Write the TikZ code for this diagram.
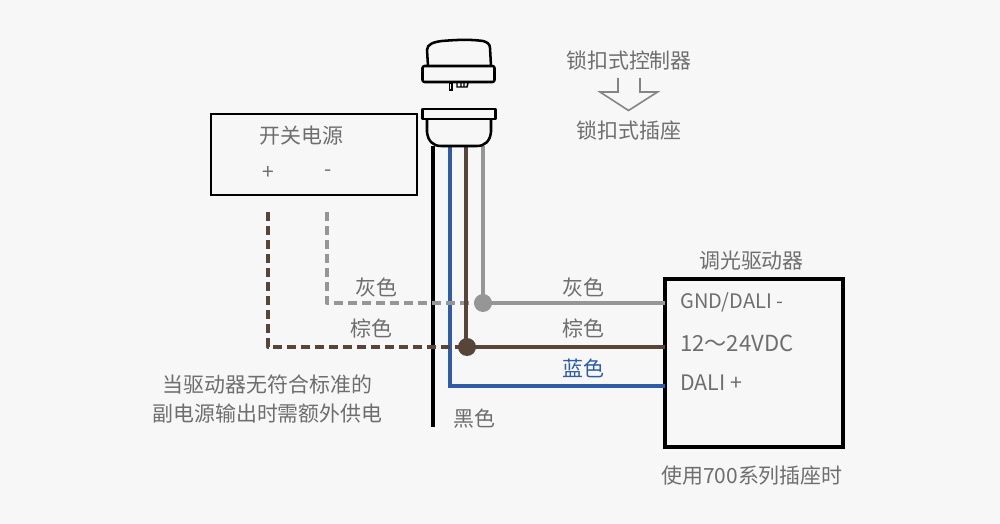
\documentclass[tikz,border=0pt]{standalone}
\usepackage{fontspec}
\setmainfont{Noto Sans CJK SC}[Scale=1]
\begin{document}
\begin{tikzpicture}[x=0.75pt,y=-0.75pt,
  lbl/.style={inner sep=0pt,text=txtgray,font=\fontsize{15.7pt}{19pt}\selectfont},
  wire/.style={line width=2.9pt,line join=miter},
  dashwire/.style={line width=2.9pt,dash pattern=on 6.9pt off 3.6pt,line join=round},
  dev/.style={draw=black,line width=1.9pt,line join=round},
  box/.style={draw=black,line width=1.9pt,inner sep=0pt,outer sep=0pt,anchor=north west}]
\definecolor{bg}{HTML}{F7F7F7}
\definecolor{txtgray}{HTML}{6E6E6E}
\definecolor{wgray}{HTML}{969696}
\definecolor{wbrown}{HTML}{57453A}
\definecolor{wblue}{HTML}{2F5CA8}
\path[use as bounding box,fill=bg] (0,0) rectangle (1000,524);

% boxes
\node[box,minimum width=154.5pt,minimum height=60.75pt] (psu) at (211,114) {};
\node[box,line width=2.5pt,minimum width=133.5pt,minimum height=126pt] (drv) at (665,279) {};

% anchors
\coordinate (gj) at (483,303);
\coordinate (bj) at (467,347);
\coordinate (gs) at (483,146);
\coordinate (bs) at (466,146);
\coordinate (ls) at (450,146);
\coordinate (ks) at (433,146);
\coordinate (ke) at (433,427);
\coordinate (gp) at (327,212);
\coordinate (bp) at (268,212);
\coordinate (gd) at (drv.west |- gj);
\coordinate (bd) at (drv.west |- bj);
\coordinate (ld) at (665,386);

% wires
\draw[wire,black,line width=3pt] (ks) -- (ke);
\draw[wire,wblue] (ls) |- (ld);
\draw[dashwire,wgray] (gp) |- (gj);
\draw[dashwire,wbrown] (bp) |- (bj);
\draw[wire,wgray] (gs) -- (gj) -- (gd);
\draw[wire,wbrown] (bs) -- (bs |- bj) -- (bd);
\fill[wgray] (gj) circle (9);
\fill[wbrown] (bj) circle (9);

% controller
\draw[dev] (428,66) -- (427,50) .. controls (427,44) and (434,42) .. (442,41) .. controls (465,39) and (475,40) .. (483,41) .. controls (487,42) and (490,44) .. (490,48) -- (491,66);
\draw[dev,rounded corners=1.5pt] (422.5,66) rectangle (494.5,82);
\draw[black,line width=1.1pt] (449.5,83) rectangle (452,90);
\draw[black,line width=1.1pt] (457,83) -- (457,87) -- (467,87) -- (468,83) (461,83) -- (461,87) (464,83) -- (464,87);
% socket
\draw[dev] (427,119) -- (427,132) .. controls (428,141) and (433,146) .. (441,146) -- (477,146) .. controls (485,146) and (490,141) .. (491,132) -- (491,119);
\draw[dev] (422.5,109) rectangle (495.5,119);

% arrow
\draw[black!48,line width=1.2pt,line join=miter] (618,78) -- (618,92) -- (600,92) -- (628.5,110.5) -- (657.5,92) -- (640,92) -- (640,78);

% labels
\node[lbl] (t1) at (629,61) {锁扣式控制器};
\node[lbl] (t2) at (629,130) {锁扣式插座};
\node[lbl] (t3) at (301.5,136) {开关电源};
\node[lbl] (t4) at (268,173) {+};
\node[lbl] (t5) at (328,173) {-};
\node[lbl] (t6) at (376.5,288) {灰色};
\node[lbl] (t7) at (371,329) {棕色};
\node[lbl] (t8) at (583.5,288) {灰色};
\node[lbl] (t9) at (583.5,329) {棕色};
\node[lbl,text=wblue] (t10) at (583.5,368) {蓝色};
\node[lbl] (t11) at (474.5,419) {黑色};
\node[lbl] (t12) at (751.5,261) {调光驱动器};
\node[lbl,anchor=west,font=\fontsize{15pt}{19pt}\selectfont] (t13) at (680,302) {GND/DALI -};
\node[lbl,anchor=west,font=\fontsize{16.6pt}{19pt}\selectfont] (t14) at (680,343) {12～24VDC};
\node[lbl,anchor=west,font=\fontsize{16pt}{19pt}\selectfont] (t15) at (680,383) {DALI +};
\node[lbl] (t16) at (267.5,385) {当驱动器无符合标准的};
\node[lbl] (t17) at (267.5,414) {副电源输出时需额外供电};
\node[lbl] (t18) at (752,476) {使用700系列插座时};
\end{tikzpicture}
\end{document}
